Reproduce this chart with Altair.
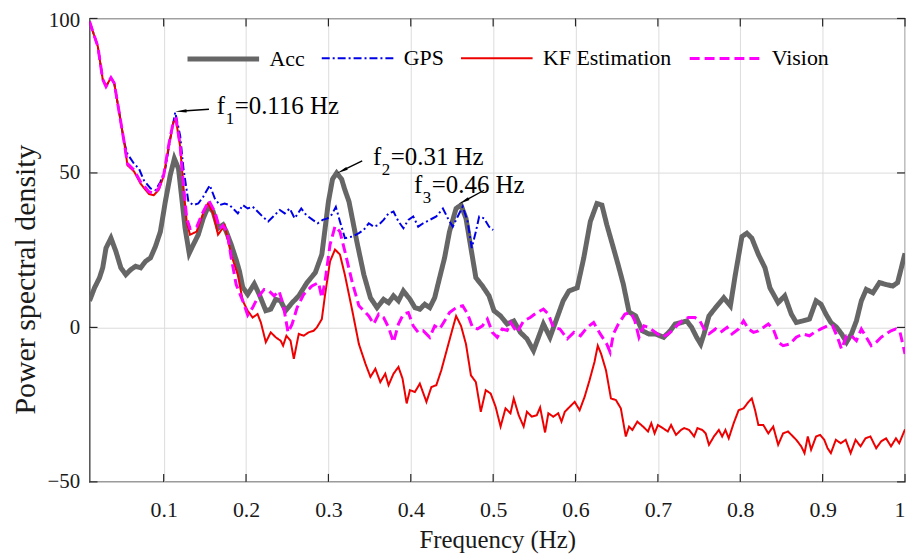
import math
import altair as alt
import pandas as pd

# ---------------- data ----------------
acc_f = [0.010, 0.016, 0.022, 0.026, 0.030, 0.036, 0.042, 0.048, 0.054, 0.060, 0.066, 0.072, 0.078, 0.084,
         0.090, 0.096, 0.102, 0.108, 0.113, 0.118, 0.122, 0.126, 0.131, 0.136, 0.142, 0.148, 0.154, 0.160,
         0.166, 0.172, 0.176, 0.182, 0.188, 0.192, 0.196, 0.202, 0.210, 0.216, 0.224, 0.230, 0.236, 0.242,
         0.248, 0.256, 0.264, 0.274, 0.284, 0.292, 0.296, 0.300, 0.305, 0.310, 0.316, 0.320, 0.325, 0.3345,
         0.343, 0.351, 0.359, 0.367, 0.373, 0.379, 0.385, 0.391, 0.399, 0.405, 0.411, 0.417, 0.423, 0.429,
         0.435, 0.441, 0.447, 0.455, 0.461, 0.467, 0.473, 0.479, 0.487, 0.495, 0.501, 0.509, 0.517, 0.525,
         0.533, 0.541, 0.549, 0.555, 0.561, 0.569, 0.577, 0.585, 0.592, 0.602, 0.610, 0.618, 0.626, 0.632,
         0.638, 0.646, 0.652, 0.658, 0.665, 0.673, 0.681, 0.689, 0.697, 0.707, 0.715, 0.721, 0.729, 0.735,
         0.741, 0.747, 0.752, 0.756, 0.762, 0.770, 0.780, 0.788, 0.794, 0.802, 0.808, 0.814, 0.822, 0.830,
         0.836, 0.846, 0.854, 0.862, 0.868, 0.876, 0.884, 0.892, 0.898, 0.904, 0.910, 0.917, 0.923, 0.929,
         0.935, 0.941, 0.947, 0.953, 0.961, 0.969, 0.977, 0.985, 0.991, 0.995, 1.000]
acc_v = [8.6, 12.8, 16, 19.3, 25.7, 28.9, 24.6, 19.3, 17.1, 18.7, 19.8, 19.3, 21.4, 22.5,
         26.2, 31, 40.7, 49.3, 54.6, 51.4, 41.8, 32.1, 24, 26.8, 30, 35.3, 39.1, 37.5,
         32.1, 33.2, 31, 26.8, 21.9, 18.2, 13, 10.7, 14.1, 10.7, 5.4, 5.9, 9.1, 8.6,
         5.4, 8, 10.2, 14.5, 17.7, 23.6, 32.1, 40.7, 48, 50, 48, 44.5, 40.7, 27.8,
         17.1, 9.6, 6.4, 9.1, 8, 10.2, 8.6, 11.8, 9.1, 6.4, 5.9, 7.5, 6.4, 9.6,
         16.1, 22.5, 31, 38.5, 39.6, 35.3, 25.7, 16.1, 13.4, 10.2, 5.4, 3.7, 1.1, 2.1,
         -1.6, -3.7, -7.5, -3.2, 1.1, -3.2, 2.7, 8.6, 11.8, 12.8, 22.5, 34.3, 40.1, 39.6,
         33.2, 25.7, 20, 14, 5, 3.7, -1.1, -2.1, -2.1, -3.2, -1.1, 1.1, 1.6, 2.1,
         0, -3.2, -5.4, -2.1, 3.7, 6.4, 9.6, 7, 17.1, 29.4, 30.5, 28.9, 23.6, 19.3,
         12.8, 8, 10.2, 4.3, 1.6, 2.1, 2.7, 8.6, 7.5, 4.3, 1.6, 0, -2.1, -4.8,
         -2.1, 2.1, 8.6, 12.3, 11.2, 14.5, 13.9, 13.4, 14.5, 18.7, 24]

gps_f = [0.010, 0.020, 0.026, 0.030, 0.036, 0.040, 0.046, 0.052, 0.056, 0.064, 0.070, 0.076, 0.084, 0.090,
         0.096, 0.102, 0.108, 0.114, 0.120, 0.124, 0.130, 0.136, 0.142, 0.148, 0.156, 0.162, 0.168, 0.174,
         0.180, 0.186, 0.190, 0.196, 0.202, 0.208, 0.214, 0.220, 0.227, 0.233, 0.241, 0.247, 0.253, 0.259,
         0.267, 0.273, 0.281, 0.287, 0.293, 0.299, 0.304, 0.309, 0.314, 0.320, 0.329, 0.337, 0.343, 0.349,
         0.355, 0.361, 0.367, 0.373, 0.379, 0.385, 0.391, 0.397, 0.403, 0.409, 0.415, 0.423, 0.431, 0.439,
         0.445, 0.451, 0.457, 0.463, 0.469, 0.474, 0.479, 0.483, 0.489, 0.495, 0.500]
gps_v = [99, 91, 80.3, 78, 80.8, 79, 69.6, 60, 56.2, 53, 51.4, 47.6, 45, 44.4,
         47.1, 51.4, 61, 69.6, 62.1, 51.4, 40.7, 39.6, 40.1, 42.3, 46, 41.8, 39.6, 40.1,
         39.6, 38, 36.9, 39.6, 38.5, 39.1, 37.5, 35.9, 34.3, 35.9, 38, 36.9, 38.5, 35.3,
         38.5, 36.4, 34.8, 33.7, 34.8, 35.3, 36.5, 39, 34.3, 28.9, 29.4, 30.5, 31.6, 33.7,
         32.6, 33.2, 34.8, 36.9, 37.5, 34.3, 32.1, 34.8, 35.9, 32.6, 33.7, 34.8, 35.9, 38.5,
         35.3, 32.6, 35.9, 39.1, 34.3, 25.7, 31, 35.9, 35.3, 32.6, 31.5]

kf_f = [0.010, 0.020, 0.026, 0.030, 0.036, 0.040, 0.046, 0.052, 0.056, 0.064, 0.072, 0.082, 0.088, 0.094,
        0.100, 0.106, 0.112, 0.115, 0.120, 0.124, 0.128, 0.132, 0.140, 0.148, 0.154, 0.160, 0.166, 0.174,
        0.182, 0.190, 0.196, 0.202, 0.208, 0.214, 0.218, 0.224, 0.230, 0.236, 0.242, 0.245, 0.249, 0.254,
        0.258, 0.264, 0.270, 0.276, 0.282, 0.286, 0.292, 0.296, 0.302, 0.308, 0.314, 0.320, 0.329, 0.337,
        0.345, 0.351, 0.357, 0.363, 0.369, 0.373, 0.379, 0.385, 0.390, 0.395, 0.399, 0.405, 0.411, 0.419,
        0.425, 0.431, 0.437, 0.443, 0.449, 0.455, 0.461, 0.467, 0.473, 0.479, 0.485, 0.491, 0.497, 0.503,
        0.509, 0.515, 0.521, 0.525, 0.531, 0.537, 0.541, 0.547, 0.553, 0.557, 0.563, 0.567, 0.573, 0.579,
        0.583, 0.587, 0.593, 0.599, 0.605, 0.611, 0.617, 0.623, 0.627, 0.631, 0.637, 0.643, 0.649, 0.655,
        0.661, 0.665, 0.669, 0.675, 0.682, 0.688, 0.692, 0.696, 0.700, 0.706, 0.712, 0.716, 0.722, 0.728,
        0.732, 0.738, 0.744, 0.748, 0.754, 0.758, 0.762, 0.768, 0.774, 0.778, 0.782, 0.786, 0.792, 0.798,
        0.804, 0.810, 0.814, 0.818, 0.822, 0.828, 0.834, 0.840, 0.846, 0.852, 0.858, 0.864, 0.868, 0.874,
        0.878, 0.882, 0.886, 0.892, 0.897, 0.902, 0.906, 0.910, 0.916, 0.922, 0.928, 0.934, 0.940, 0.946,
        0.952, 0.958, 0.965, 0.971, 0.977, 0.983, 0.989, 0.993, 1.000]
kf_v = [99, 91, 80.3, 78, 80.8, 79, 69.6, 60, 52.5, 50.5, 46.5, 43.2, 42.8, 44.5,
        49, 58.5, 66.5, 67, 58.5, 45.5, 34, 30, 31, 37, 40.1, 37, 30, 33,
        23.5, 17, 8.6, 5.4, 3.2, 4.3, 1.6, -4.8, -1.6, -3.2, -4.3, -5.9, -2.7, -4.3,
        -10.2, -2.1, -2.7, -1.6, -1.1, 0, 2.7, 10.7, 21.4, 25.2, 23.6, 17, 5.4, -5.4,
        -11.8, -16, -13.4, -17.7, -15, -18.7, -15, -12.8, -16.6, -24.6, -20.3, -20.9, -18.2, -24.1,
        -19.3, -18.7, -13.9, -8, -2.1, 3.7, 0.5, -5.4, -15.5, -17.7, -27.3, -20.3, -21.4, -25.7,
        -32.1, -26.2, -27.8, -23, -28.4, -32.1, -27.3, -28.9, -28.4, -25.9, -34, -27.8, -28.9, -27.8,
        -30.5, -27.3, -25.7, -24.1, -26.8, -22.5, -17.1, -11.2, -5.9, -8.5, -13.9, -23, -23.5, -26.2,
        -35.3, -32.1, -33.2, -30.5, -32.1, -33.7, -31, -34.3, -31.6, -32.6, -33.7, -31.6, -34.8, -33.2,
        -32.6, -33.2, -35.3, -32.6, -33.2, -34.3, -38, -35.3, -33.2, -35.3, -33.2, -35.9, -31, -26.8,
        -26.2, -24.1, -23, -26.8, -31.6, -31.6, -34.3, -32.1, -38, -34.3, -33.7, -35.3, -36.4, -38.5,
        -40.7, -35.3, -39.6, -35.3, -34.8, -36.4, -39.1, -40.7, -36.4, -37.5, -36.4, -40.7, -36.4, -38.5,
        -35.9, -35.3, -39.1, -36.9, -35.9, -38.5, -35.9, -37.5, -33]

vis_f = [0.010, 0.020, 0.026, 0.030, 0.036, 0.040, 0.046, 0.052, 0.056, 0.064, 0.072, 0.082, 0.088, 0.094,
         0.100, 0.106, 0.112, 0.115, 0.120, 0.124, 0.128, 0.132, 0.140, 0.148, 0.155, 0.162, 0.168, 0.172,
         0.177, 0.182, 0.188, 0.196, 0.202, 0.208, 0.214, 0.222, 0.228, 0.234, 0.240, 0.245, 0.251, 0.256,
         0.262, 0.270, 0.280, 0.288, 0.292, 0.296, 0.302, 0.308, 0.314, 0.320, 0.329, 0.337, 0.343, 0.349,
         0.355, 0.361, 0.367, 0.373, 0.379, 0.385, 0.391, 0.397, 0.403, 0.409, 0.415, 0.423, 0.429, 0.435,
         0.441, 0.447, 0.455, 0.463, 0.469, 0.475, 0.481, 0.487, 0.493, 0.499, 0.505, 0.511, 0.517, 0.521,
         0.529, 0.537, 0.545, 0.553, 0.561, 0.567, 0.573, 0.581, 0.590, 0.598, 0.606, 0.614, 0.622, 0.630,
         0.638, 0.642, 0.646, 0.652, 0.660, 0.667, 0.672, 0.677, 0.683, 0.689, 0.697, 0.705, 0.713, 0.721,
         0.729, 0.737, 0.745, 0.751, 0.756, 0.762, 0.770, 0.776, 0.784, 0.790, 0.798, 0.804, 0.810, 0.816,
         0.822, 0.828, 0.834, 0.840, 0.846, 0.852, 0.860, 0.868, 0.876, 0.884, 0.890, 0.898, 0.906, 0.912,
         0.918, 0.923, 0.929, 0.935, 0.941, 0.947, 0.953, 0.959, 0.965, 0.971, 0.977, 0.983, 0.989, 0.994,
         1.000]
vis_v = [99, 91, 80.3, 78, 80.8, 79, 69.6, 60, 53, 50.9, 47.1, 43.9, 43.4, 45,
         49.3, 58.9, 67, 67.5, 58.9, 46, 35.3, 32, 32.5, 37.5, 41, 37.5, 32, 33,
         31, 22.5, 13.9, 8.6, 4, 6.4, 9.6, 12.3, 11.8, 10.2, 11.8, 7.5, -1.6, 1.1,
         6.4, 10.7, 13.4, 14.5, 9.6, 15, 26.8, 32.7, 31, 24.6, 14.5, 7, 5.4, 3.7,
         1.1, 4.3, 3.2, 0, -4.8, 1.1, 4.3, 4.8, 0.5, -1.6, -1.1, -3.2, 0.5, -0.5,
         2.1, 4.8, 6.4, 7, 4.3, 0, -0.5, 0.5, 2.7, -1.6, -3.2, -0.5, -1, 1.6,
         -1.6, 2.1, 3.2, 4.8, 5.9, 4.3, 0, -0.5, -3.7, -1.6, -2.7, 0, 1.6, -2.1,
         -5.4, -8, -2.1, 1.1, 4.3, 4.8, 2.1, -3.2, 0.5, 0, -1.6, -3.2, -2.1, 0,
         2.1, 3.2, 3.2, 2.1, -0.5, -2.1, -0.5, -1.6, 0, -2.1, -0.5, 2.1, -0.5, -1.6,
         -1.1, 0, 1.1, -0.5, -4.8, -5.9, -5.4, -3.2, -2.1, -2.7, -1.6, -0.5, 0.5, 0.5,
         -3.2, -7, -2.7, -2.7, -4.3, -0.5, -3.2, -5.9, -4.8, -3.2, -2.1, -1.1, -0.5, -1.6,
         -8.6]

series_names = ["Acc", "GPS", "KF Estimation", "Vision"]
series_colors = ["#666666", "#0000e6", "#ee0000", "#ff00ff"]
series_dash = [[1, 0], [8, 3, 2, 3], [1, 0], [10, 5]]
series_width = [5, 2, 2, 3]

x_ticks = [0.1, 0.2, 0.3, 0.4, 0.5, 0.6, 0.7, 0.8, 0.9, 1.0]
y_ticks = [-50, 0, 50, 100]

# annotations: peak (arrow tip), arrow tail, label anchor, subscript
ann_tip_f = [0.116, 0.312, 0.460]
ann_tip_y = [69.9, 50.1, 40.2]
ann_tail_f = [0.155, 0.341, 0.489]
ann_tail_y = [70.6, 53.9, 44.4]
ann_lab_f = [0.1645, 0.354, 0.4038]
ann_lab_y = [71.5, 55.2, 46.0]
ann_sub = ["1", "2", "3"]
ann_rest = ["=0.116 Hz", "=0.31 Hz", "=0.46 Hz"]

# ---------------- build tables ----------------
rows = []
for name, fs, vs in [("Acc", acc_f, acc_v), ("GPS", gps_f, gps_v),
                     ("KF Estimation", kf_f, kf_v), ("Vision", vis_f, vis_v)]:
    for i, (f, v) in enumerate(zip(fs, vs)):
        rows.append({"series": name, "f": f, "psd": v, "i": i})
df = pd.DataFrame(rows)

W, H = 820, 466
PX_F = 0.99 / W          # freq per pixel
PX_Y = 150.0 / H         # psd per pixel
ann_rows = []
for k in range(3):
    vx = (ann_tip_f[k] - ann_tail_f[k]) / PX_F
    vy = -(ann_tip_y[k] - ann_tail_y[k]) / PX_Y
    length = math.hypot(vx, vy)
    frac = 6.0 / length
    ang = math.degrees(math.atan2(vx, -vy)) % 360
    ann_rows.append({
        "tail_f": ann_tail_f[k], "tail_y": ann_tail_y[k],
        "head_f": ann_tip_f[k] + frac * (ann_tail_f[k] - ann_tip_f[k]),
        "head_y": ann_tip_y[k] + frac * (ann_tail_y[k] - ann_tip_y[k]),
        "angle": ang,
        "lab_f": ann_lab_f[k], "lab_y": ann_lab_y[k],
        "sub": ann_sub[k], "rest": ann_rest[k], "f": "f",
    })
ann = pd.DataFrame(ann_rows)

FONT = "Liberation Serif"
TXT = "#1a1a1a"

xscale = alt.Scale(domain=[0.01, 1.0], nice=False, zero=False)
yscale = alt.Scale(domain=[-50, 100], nice=False, zero=False)

legend = alt.Legend(orient="none", legendX=96, legendY=2, direction="horizontal", columns=4, title=None,
                    labelFont=FONT, labelFontSize=22)

xaxis = alt.Axis(values=x_ticks, format="~g", grid=True, gridColor="#dcdcdc", gridWidth=1,
                 domain=False, ticks=False, labelPadding=18, labelFont=FONT, labelFontSize=22,
                 labelColor=TXT, title="Frequency (Hz)", titleFont=FONT, titleFontSize=25,
                 titleFontWeight="normal", titleColor=TXT, titlePadding=7)
yaxis = alt.Axis(values=y_ticks, grid=True, gridColor="#dcdcdc", gridWidth=1,
                 domain=False, ticks=False, labelPadding=10, labelFont=FONT, labelFontSize=21,
                 labelOffset={"condition": {"test": "datum.value === 100", "value": 2}, "value": 0},
                 labelColor=TXT, title="Power spectral density", titleFont=FONT,
                 titleFontSize=30, titleFontWeight="normal", titleColor=TXT,
                 titleX=-64, titleY=262, titleAngle=270, titleAlign="center", titleBaseline="middle")

lines = alt.Chart(df).mark_line(clip=True).encode(
    x=alt.X("f:Q", scale=xscale, axis=xaxis),
    y=alt.Y("psd:Q", scale=yscale, axis=yaxis),
    color=alt.Color("series:N", scale=alt.Scale(domain=series_names, range=series_colors), legend=legend),
    strokeDash=alt.StrokeDash("series:N", scale=alt.Scale(domain=series_names, range=series_dash), legend=legend),
    strokeWidth=alt.StrokeWidth("series:N",
                                scale=alt.Scale(type="ordinal", domain=series_names, range=series_width),
                                legend=legend),
    order="i:Q",
)

# inward tick marks on all four sides
xt = pd.DataFrame({"f": x_ticks})
yt = pd.DataFrame({"psd": y_ticks})
tick_col = "#262626"
xt_bottom = alt.Chart(xt).mark_rule(color=tick_col, strokeWidth=1.2).encode(
    x=alt.X("f:Q", scale=xscale), y=alt.value(H), y2=alt.value(H - 8))
xt_top = alt.Chart(xt).mark_rule(color=tick_col, strokeWidth=1.2).encode(
    x=alt.X("f:Q", scale=xscale), y=alt.value(0), y2=alt.value(8))
yt_left = alt.Chart(yt).mark_rule(color=tick_col, strokeWidth=1.2).encode(
    y=alt.Y("psd:Q", scale=yscale), x=alt.value(0), x2=alt.value(8))
yt_right = alt.Chart(yt).mark_rule(color=tick_col, strokeWidth=1.2).encode(
    y=alt.Y("psd:Q", scale=yscale), x=alt.value(W), x2=alt.value(W - 8))

arrow_lines = alt.Chart(ann).mark_rule(color="black", strokeWidth=1.4).encode(
    x=alt.X("tail_f:Q", scale=xscale), y=alt.Y("tail_y:Q", scale=yscale),
    x2="head_f:Q", y2="head_y:Q")
arrow_heads = alt.Chart(ann).mark_point(shape="wedge", filled=True, color="black", size=170, opacity=1).encode(
    x=alt.X("head_f:Q", scale=xscale), y=alt.Y("head_y:Q", scale=yscale),
    angle=alt.Angle("angle:Q", scale=None))
txt_f = alt.Chart(ann).mark_text(font=FONT, fontSize=25, align="left", baseline="middle", color="black").encode(
    x=alt.X("lab_f:Q", scale=xscale), y=alt.Y("lab_y:Q", scale=yscale), text="f:N")
txt_sub = alt.Chart(ann).mark_text(font=FONT, fontSize=17, align="left", baseline="middle", color="black",
                                   dx=9, dy=13).encode(
    x=alt.X("lab_f:Q", scale=xscale), y=alt.Y("lab_y:Q", scale=yscale), text="sub:N")
txt_rest = alt.Chart(ann).mark_text(font=FONT, fontSize=25, align="left", baseline="middle", color="black",
                                    dx=18).encode(
    x=alt.X("lab_f:Q", scale=xscale), y=alt.Y("lab_y:Q", scale=yscale), text="rest:N")

chart = alt.layer(
    lines, xt_bottom, xt_top, yt_left, yt_right, arrow_lines, arrow_heads, txt_f, txt_sub, txt_rest
).properties(
    width=W, height=H,
    autosize=alt.AutoSizeParams(type="none"),
    padding={"left": 82, "top": 9, "right": 2, "bottom": 72},
    background="white",
).configure(
    font=FONT
).configure_view(
    stroke="#262626", strokeWidth=1.2
).configure_legend(
    symbolType="stroke", symbolSize=5184, labelFont=FONT, labelFontSize=22,
    labelColor="black", columnPadding=12, labelOffset=8, padding=0,
)

chart.save("out.html", embed_options={"renderer": "svg", "actions": False})
